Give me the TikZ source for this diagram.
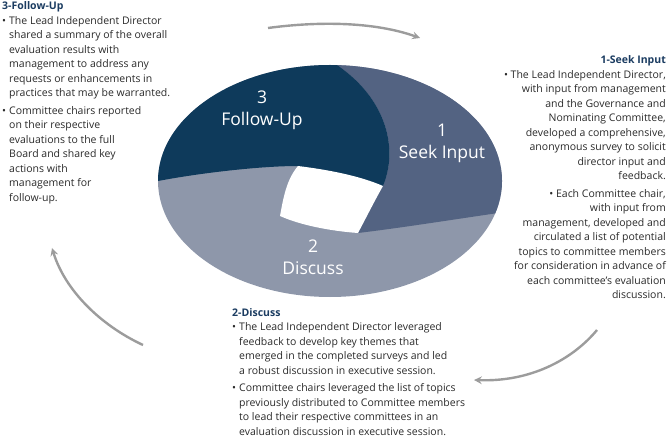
\documentclass[tikz,border=0pt]{standalone}
\usepackage{fontspec}
\setmainfont{Open Sans}
\usepackage{tikz}
\definecolor{segdark}{HTML}{0E3A5B}
\definecolor{segmid}{HTML}{536382}
\definecolor{seglight}{HTML}{8E97AA}
\definecolor{arrowgray}{HTML}{9C9C9C}
\definecolor{headblue}{HTML}{1B3C61}
\definecolor{bodytext}{HTML}{2A2A2A}
\newcommand{\bul}{\makebox[7pt][l]{\textbullet}}
\newcommand{\ind}{\hspace*{7pt}}
\newcommand{\hd}[1]{{\bfseries\color{headblue}#1}}

\begin{document}
\begin{tikzpicture}[x=1pt,y=-1pt,>=stealth,
  blurb/.style={inner sep=0pt, text=bodytext, font=\fontsize{10.5}{14.5}\selectfont},
  seglabel/.style={text=white, align=center, font=\fontsize{17.5}{22}\selectfont},
  cyc/.style={->, draw=arrowgray, line width=2.4pt}]
\useasboundingbox (0,0) rectangle (668,443);
\fill[seglight] (330,181) ellipse [x radius=172, y radius=116];
\begin{scope}
  \clip (330,181) ellipse [x radius=172, y radius=116];
  \fill[segmid] (337,65) .. controls (388,100) and (398,150) .. (383,186) -- (360,200) -- (350,225) -- (358,233)
    .. controls (400,228) and (450,220) .. (505,212) -- (520,212) -- (520,40) -- (330,40) -- cycle;
  \fill[segdark] (383,186) .. controls (398,150) and (388,100) .. (337,65) -- (330,40) -- (140,40) -- (140,182) -- (158,181)
    .. controls (200,173) and (260,166) .. (298,166) -- (320,185) -- (365,195) -- cycle;
\end{scope}
\fill[white] (298,166) .. controls (330,170) and (360,176) .. (383,186) .. controls (375,200) and (366,218) .. (358,233)
  .. controls (330,231) and (300,225) .. (280,216) .. controls (283,200) and (286,180) .. (298,166) -- cycle;
\node[seglabel] (fuLbl) at (262,110) {3\\Follow-Up};
\node[seglabel] (siLbl) at (442,143) {1\\Seek Input};
\node[seglabel] (diLbl) at (313,257) {2\\Discuss};
\node[blurb, anchor=north west, align=left] (fuText) at (2,1.5) {\hd{3-Follow-Up}\\
  \bul The Lead Independent Director\\
  \ind shared a summary of the overall\\
  \ind evaluation results with\\
  \ind management to address any\\
  \ind requests or enhancements in\\
  \ind practices that may be warranted.\\[3pt]
  \bul Committee chairs reported\\
  \ind on their respective\\
  \ind evaluations to the full\\
  \ind Board and shared key\\
  \ind actions with\\
  \ind management for\\
  \ind follow-up.};
\node[blurb, anchor=north east, align=right] (siText) at (666,55.5) {\hd{1-Seek Input}\\
  \textbullet\ The Lead Independent Director,\\
  with input from management\\
  and the Governance and\\
  Nominating Committee,\\
  developed a comprehensive,\\
  anonymous survey to solicit\\
  director input and\\
  feedback.\\[3pt]
  \textbullet\ Each Committee chair,\\
  with input from\\
  management, developed and\\
  circulated a list of potential\\
  topics to committee members\\
  for consideration in advance of\\
  each committee's evaluation\\
  discussion.};
\node[blurb, anchor=north west, align=left] (diText) at (232,308) {\hd{2-Discuss}\\
  \bul The Lead Independent Director leveraged\\
  \ind feedback to develop key themes that\\
  \ind emerged in the completed surveys and led\\
  \ind a robust discussion in executive session.\\[3pt]
  \bul Committee chairs leveraged the list of topics\\
  \ind previously distributed to Committee members\\
  \ind to lead their respective committees in an\\
  \ind evaluation discussion in executive session.};
\coordinate (topS) at (268,28);
\coordinate (topE) at (420,38);
\coordinate (rgtS) at (597,330);
\coordinate (rgtE) at (474,380);
\coordinate (lftS) at (143,345);
\coordinate (lftE) at (52,248);
\draw[cyc] (topS) .. controls (320,21) and (375,22) .. (topE);
\draw[cyc] (rgtS) .. controls (572,360) and (530,382) .. (rgtE);
\draw[cyc] (lftS) .. controls (100,325) and (65,290) .. (lftE);
\end{tikzpicture}
\end{document}
